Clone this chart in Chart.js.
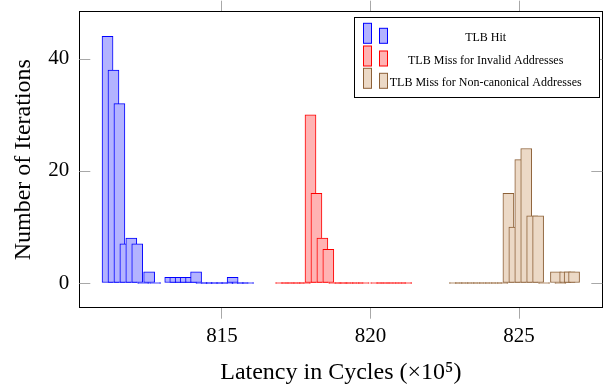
<!DOCTYPE html>
<html><head><meta charset="utf-8">
<script src="https://cdn.jsdelivr.net/npm/chart.js@4.4.1/dist/chart.umd.min.js"></script>
<style>html,body{margin:0;padding:0;background:#fff;}#wrap{width:609px;height:387px;}</style>
</head><body><div id="wrap"><canvas id="c" width="609" height="387"></canvas></div>
<script>
// ---- data (latency in cycles x10^5, number of iterations) ----
const seriesNames = ['TLB Hit', 'TLB Miss for Invalid Addresses', 'TLB Miss for Non-canonical Addresses'];

const hitBinsA   = [811.15, 811.35, 811.55, 811.75, 811.95, 812.15, 812.35, 812.55, 812.75];
const hitCountsA = [44, 38, 32, 7, 8, 7, 0, 2, 0];
const hitBinsB   = [813.26, 813.43, 813.61, 813.78, 813.96, 814.13, 814.31, 814.48, 814.66, 814.83, 815.01, 815.18, 815.36, 815.53, 815.70, 815.88];
const hitCountsB = [1, 1, 1, 1, 1, 2, 0, 0, 0, 0, 0, 0, 1, 0, 0, 0];

const invBinsA   = [816.99, 817.19, 817.39, 817.59, 817.79, 817.98, 818.18, 818.38, 818.58, 818.78, 818.98, 819.17, 819.37, 819.57, 819.77];
const invCountsA = [0, 0, 0, 0, 0, 30, 16, 8, 6, 0, 0, 0, 0, 0, 0];
const invBinsB   = [820.19, 820.39, 820.59, 820.79, 821.00, 821.20];
const invCountsB = [0, 0, 0, 0, 0, 0];

const ncBinsA   = [822.84, 823.04, 823.24, 823.44, 823.64, 823.84, 824.04, 824.24, 824.44, 824.64, 824.84, 825.04, 825.24, 825.44, 825.64, 825.84];
const ncCountsA = [0, 0, 0, 0, 0, 0, 0, 0, 0, 16, 10, 22, 24, 12, 12, 0];
const ncBinsB   = [826.24, 826.39, 826.55, 826.70, 826.85];
const ncCountsB = [2, 0, 2, 2, 2];

const xTicks = [815, 820, 825];
const yTicks = [0, 20, 40];
const xRange = [810.2, 827.8];
const yRange = [-4.4, 48.4];
const xTitle = 'Latency in Cycles (×10⁵)';
const yTitle = 'Number of Iterations';

// ---- styles ----
const styles = [
  {border: 'rgb(0,0,255)',   fill: 'rgb(179,179,255)'},
  {border: 'rgb(255,0,0)',   fill: 'rgb(255,179,179)'},
  {border: 'rgb(140,96,55)', fill: 'rgb(236,217,198)'}
];
const SERIF = '"Liberation Serif", "DejaVu Serif", serif';
const TICKGRAY = '#a8a8a8';

function zip(xs, ys) { return xs.map((x, i) => ({x: x, y: ys[i]})); }
function mk(xs, ys, si, label) {
  return {
    label: label, data: zip(xs, ys),
    backgroundColor: styles[si].fill, borderColor: styles[si].border,
    borderWidth: 1, borderSkipped: false, barThickness: 11, minBarLength: 1,
    grouped: false
  };
}
const datasets = [
  mk(hitBinsA, hitCountsA, 0, seriesNames[0]),
  mk(hitBinsB, hitCountsB, 0, ''),
  mk(invBinsA, invCountsA, 1, seriesNames[1]),
  mk(invBinsB, invCountsB, 1, ''),
  mk(ncBinsA, ncCountsA, 2, seriesNames[2]),
  mk(ncBinsB, ncCountsB, 2, '')
];

const setTicks = arr => (scale) => { scale.ticks = arr.map(v => ({value: v})); };
const noPad = s => { s.paddingTop = 0; s.paddingBottom = 0; s.paddingLeft = 0; s.paddingRight = 0; };

// inward y tick marks (left & right) drawn from the y scale
const inwardTicks = {
  id: 'inwardTicks',
  afterDraw(chart) {
    const {ctx, chartArea} = chart;
    const y = chart.scales.y;
    ctx.save();
    ctx.strokeStyle = TICKGRAY; ctx.lineWidth = 1;
    yTicks.forEach(v => {
      const py = Math.round(y.getPixelForValue(v)) + 0.5;
      ctx.beginPath();
      ctx.moveTo(chartArea.left, py); ctx.lineTo(chartArea.left + 11, py);
      ctx.moveTo(chartArea.right - 11, py); ctx.lineTo(chartArea.right, py);
      ctx.stroke();
    });
    ctx.restore();
  }
};

// pgfplots-like legend box
const boxLegend = {
  id: 'boxLegend',
  afterDraw(chart) {
    const ctx = chart.ctx;
    const L = 354.5, T = 17.5, W = 245, H = 80;
    ctx.save();
    ctx.fillStyle = '#fff'; ctx.fillRect(L, T, W, H);
    ctx.strokeStyle = '#000'; ctx.lineWidth = 1; ctx.strokeRect(L, T, W, H);
    const rowBottoms = [43.3, 66, 88.3];
    ctx.font = '12px ' + SERIF; ctx.textAlign = 'center'; ctx.textBaseline = 'alphabetic';
    seriesNames.forEach((name, i) => {
      const b = rowBottoms[i];
      ctx.fillStyle = styles[i].fill; ctx.strokeStyle = styles[i].border; ctx.lineWidth = 1;
      ctx.fillRect(363.5, b - 20, 8, 20); ctx.strokeRect(363.5, b - 20, 8, 20);
      ctx.fillRect(379.5, b - 15, 8, 15); ctx.strokeRect(379.5, b - 15, 8, 15);
      ctx.fillStyle = '#000';
      ctx.fillText(name, 485.7, b - 2.5);
    });
    ctx.restore();
  }
};

new Chart(document.getElementById('c'), {
  type: 'bar',
  data: {datasets: datasets},
  options: {
    responsive: false, animation: false, devicePixelRatio: 1,
    layout: {padding: 0},
    plugins: {legend: {display: false}, tooltip: {enabled: false}},
    scales: {
      x: {
        type: 'linear', position: 'bottom', min: xRange[0], max: xRange[1], offset: false,
        afterBuildTicks: setTicks(xTicks),
        afterFit: s => { s.height = 79.3; noPad(s); },
        grid: {drawOnChartArea: false, drawTicks: true, tickLength: 11, tickColor: TICKGRAY, offset: false},
        border: {display: true, color: '#000', width: 1},
        ticks: {font: {family: SERIF, size: 21}, color: '#000', padding: 5, maxRotation: 0},
        title: {display: true, text: xTitle, font: {family: SERIF, size: 24}, color: '#000', padding: {top: 0, bottom: 0}}
      },
      xTop: {
        type: 'linear', position: 'top', min: xRange[0], max: xRange[1], offset: false,
        afterBuildTicks: setTicks(xTicks),
        afterFit: s => { s.height = 11.7; noPad(s); },
        grid: {drawOnChartArea: false, drawTicks: true, tickLength: 11, tickColor: TICKGRAY, offset: false},
        border: {display: true, color: '#000', width: 1},
        ticks: {display: false}
      },
      y: {
        type: 'linear', position: 'left', min: yRange[0], max: yRange[1],
        afterBuildTicks: setTicks(yTicks),
        afterFit: s => { s.width = 79.3; noPad(s); },
        grid: {drawOnChartArea: false, drawTicks: false},
        border: {display: true, color: '#000', width: 1},
        ticks: {font: {family: SERIF, size: 21}, color: '#000', padding: 10},
        title: {display: true, text: yTitle, font: {family: SERIF, size: 24}, color: '#000', padding: {top: 9, bottom: 0}}
      },
      yRight: {
        type: 'linear', position: 'right', min: yRange[0], max: yRange[1],
        afterBuildTicks: setTicks(yTicks),
        afterFit: s => { s.width = 6.7; noPad(s); },
        grid: {drawOnChartArea: false, drawTicks: false},
        border: {display: true, color: '#000', width: 1},
        ticks: {display: false}
      }
    }
  },
  plugins: [inwardTicks, boxLegend]
});
</script></body></html>
